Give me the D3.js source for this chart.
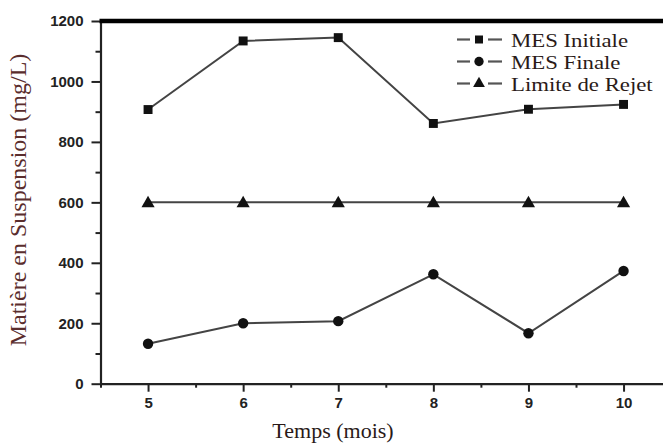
<!DOCTYPE html>
<html>
<head>
<meta charset="utf-8">
<script src="https://d3js.org/d3.v7.min.js"></script>
<style>
  body { margin: 0; background: #fff; }
  .tick text { font-family: "Liberation Sans", Arial, sans-serif; font-weight: bold; font-size: 15px; fill: #222; }
  .axis path, .axis line { stroke: #222; }
</style>
</head>
<body>
<div id="chart"></div>
<script>
// Data
var months = [5, 6, 7, 8, 9, 10];
var mesInitiale = [907, 1134, 1145, 861, 908, 924];
var mesFinale = [132, 200, 207, 362, 167, 373];
var limiteRejet = [600, 600, 600, 600, 600, 600];
var seriesNames = ["MES Initiale", "MES Finale", "Limite de Rejet"];
var yTicks = [0, 200, 400, 600, 800, 1000, 1200];

var W = 663, H = 444;
var margin = {left: 100.5, top: 21, bottom: 60};

var svg = d3.select("#chart").append("svg")
  .attr("width", W).attr("height", H);

var x = d3.scaleLinear().domain([4.5, 10.5]).range([margin.left, margin.left + 6 * 95.1]);
var y = d3.scaleLinear().domain([0, 1200]).range([383.7, margin.top]);

// minor ticks
var xMinor = d3.range(4.5, 10.51, 0.5).filter(function(d) { return d % 1 !== 0; });
var yMinor = d3.range(100, 1200, 200);

svg.append("g").attr("class", "axis")
  .attr("transform", "translate(0," + y(0) + ")")
  .call(d3.axisBottom(x).tickValues(xMinor).tickSize(4).tickFormat(""))
  .call(function(g) { g.select(".domain").remove(); g.selectAll("line").attr("stroke-width", 2); });
svg.append("g").attr("class", "axis")
  .attr("transform", "translate(" + margin.left + ",0)")
  .call(d3.axisLeft(y).tickValues(yMinor).tickSize(5).tickFormat(""))
  .call(function(g) { g.select(".domain").remove(); g.selectAll("line").attr("stroke-width", 2); });

// major axes
svg.append("g").attr("class", "axis")
  .attr("transform", "translate(0," + y(0) + ")")
  .call(d3.axisBottom(x).tickValues(months).tickSize(8).tickSizeOuter(0).tickPadding(6).tickFormat(d3.format("d")))
  .call(function(g) { g.select(".domain").attr("stroke-width", 2.2); g.selectAll("line").attr("stroke-width", 2); });
svg.append("g").attr("class", "axis")
  .attr("transform", "translate(" + margin.left + ",0)")
  .call(d3.axisLeft(y).tickValues(yTicks).tickSize(9).tickSizeOuter(0).tickPadding(8).tickFormat(d3.format("d")))
  .call(function(g) { g.select(".domain").attr("stroke-width", 2.2); g.selectAll("line").attr("stroke-width", 2); });

// thick top frame line
svg.append("line")
  .attr("x1", margin.left - 1).attr("x2", W)
  .attr("y1", y(1200)).attr("y2", y(1200))
  .attr("stroke", "#000").attr("stroke-width", 4.5);

var line = d3.line()
  .x(function(d, i) { return x(months[i]); })
  .y(function(d) { return y(d); });

var symbols = [d3.symbolSquare, d3.symbolCircle, d3.symbolTriangle];
var symSizes = [80, 85, 75];
var allSeries = [mesInitiale, mesFinale, limiteRejet];

allSeries.forEach(function(vals, k) {
  svg.append("path").datum(vals)
    .attr("d", line)
    .attr("fill", "none")
    .attr("stroke", "#444")
    .attr("stroke-width", 2);
  svg.selectAll(".pt" + k).data(vals).enter().append("path")
    .attr("class", "pt" + k)
    .attr("transform", function(d, i) { return "translate(" + x(months[i]) + "," + (y(d) + (k === 2 ? 1 : 0)) + ")"; })
    .attr("d", d3.symbol().type(symbols[k]).size(symSizes[k]))
    .attr("fill", "#111");
});

// legend
var legend = svg.append("g");
seriesNames.forEach(function(name, k) {
  var cy = 39.5 + k * 22;
  legend.append("line").attr("x1", 457).attr("x2", 470).attr("y1", cy).attr("y2", cy)
    .attr("stroke", "#555").attr("stroke-width", 2.2);
  legend.append("line").attr("x1", 488).attr("x2", 502).attr("y1", cy).attr("y2", cy)
    .attr("stroke", "#555").attr("stroke-width", 2.2);
  legend.append("path")
    .attr("transform", "translate(479," + cy + ")")
    .attr("d", d3.symbol().type(symbols[k]).size(symSizes[k] * 0.8))
    .attr("fill", "#111");
  legend.append("text")
    .attr("transform", "translate(511," + (cy + 7) + ") scale(1.2,1)")
    .attr("font-family", "'Liberation Serif', 'Times New Roman', serif")
    .attr("font-size", 19)
    .attr("fill", "#2a1a18")
    .text(name);
});

// axis titles
svg.append("text")
  .attr("x", 333).attr("y", 438)
  .attr("text-anchor", "middle")
  .attr("font-family", "'Liberation Serif', 'Times New Roman', serif")
  .attr("font-size", 22)
  .attr("fill", "#2a1a18")
  .text("Temps (mois)");

svg.append("text")
  .attr("transform", "translate(26,200) rotate(-90)")
  .attr("text-anchor", "middle")
  .attr("font-family", "'Liberation Serif', 'Times New Roman', serif")
  .attr("font-size", 24)
  .attr("fill", "#5a2d2d")
  .text("Matière en Suspension (mg/L)");
</script>
</body>
</html>
